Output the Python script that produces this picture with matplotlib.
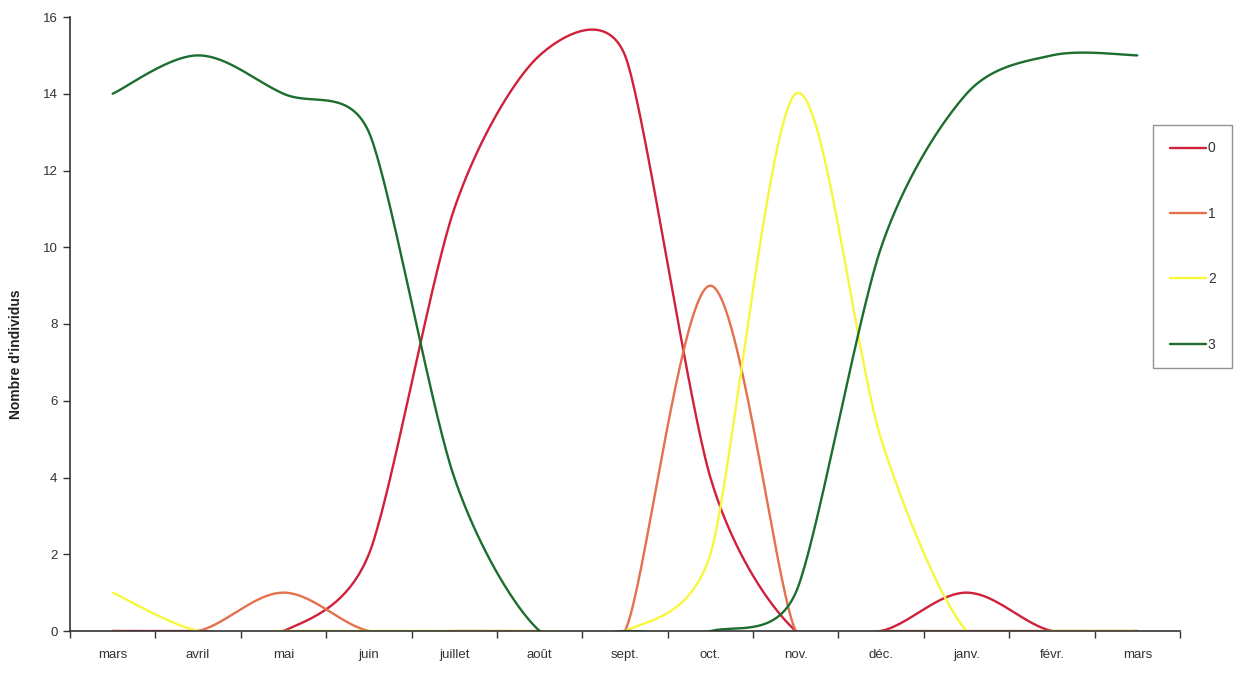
import numpy as np
import matplotlib
matplotlib.use("Agg")
import matplotlib.pyplot as plt

plt.rcParams["font.family"] = ["Liberation Sans", "DejaVu Sans"]

months = ["mars", "avril", "mai", "juin", "juillet", "août", "sept.",
          "oct.", "nov.", "déc.", "janv.", "févr.", "mars"]
stade0 = [0, 0, 0, 2, 11, 15, 15, 4, 0, 0, 1, 0, 0]
stade1 = [0, 0, 1, 0, 0, 0, 0, 9, 0, 0, 0, 0, 0]
stade2 = [1, 0, 0, 0, 0, 0, 0, 2, 14, 5, 0, 0, 0]
stade3 = [14, 15, 14, 13, 4, 0, 0, 0, 1, 10, 14, 15, 15]
labels = ["0", "1", "2", "3"]
colors = ["#d0203a", "#e4704c", "#f7f73c", "#1b6e2e"]

W, H = 1239, 673
ax_left, ax_bottom, ax_w, ax_h = 70 / W, 42 / H, 1110 / W, 614 / H


def smooth(xs, ys, sx, sy, n=40, k=0.4):
    # excel-like smoothed line: bezier through the points, worked out in pixels
    P = np.column_stack([np.asarray(xs, float) * sx, np.asarray(ys, float) * sy])
    m = len(P)
    tang = np.zeros_like(P)
    for i in range(m):
        a = P[max(i - 1, 0)]
        b = P[i]
        c = P[min(i + 1, m - 1)]
        dp = np.hypot(*(b - a))
        dn = np.hypot(*(c - b))
        g = 1.0
        if dp > 0 and dn > 0:
            g = (2 * min(dp, dn) / (dp + dn)) ** k
        tang[i] = (c - a) / 6 * g
    out = []
    for i in range(m - 1):
        p1, p2 = P[i], P[i + 1]
        c1 = p1 + tang[i]
        c2 = p2 - tang[i + 1]
        t = np.linspace(0, 1, n)[:, None]
        seg = ((1 - t) ** 3) * p1 + 3 * ((1 - t) ** 2) * t * c1 \
            + 3 * (1 - t) * t ** 2 * c2 + t ** 3 * p2
        out.append(seg if i == 0 else seg[1:])
    out = np.vstack(out)
    return out[:, 0] / sx, out[:, 1] / sy


fig = plt.figure(figsize=(W / 100, H / 100), dpi=100)
ax = fig.add_axes([ax_left, ax_bottom, ax_w, ax_h])

x = np.arange(len(months))
sx = 1110 / 13
sy = 614 / 16
for vals, lab, col in zip([stade0, stade1, stade2, stade3], labels, colors):
    xx, yy = smooth(x, vals, sx, sy)
    ax.plot(xx, yy, color=col, linewidth=1.7, label=lab, solid_capstyle="round")

ax.set_xlim(-0.5, 12.5)
ax.set_ylim(0, 16)
ax.set_yticks(range(0, 17, 2))
ax.set_xticks(x)
ax.set_xticklabels(months)
ax.set_xticks(np.arange(-0.5, 13, 1), minor=True)
ax.tick_params(axis="x", which="major", length=0, pad=13, labelsize=9.5, labelcolor="#333333")
ax.tick_params(axis="x", which="minor", length=5, width=1, direction="out", color="#333333")
ax.tick_params(axis="y", length=5, width=1, pad=4, labelsize=9.5, labelcolor="#333333", color="#333333")

for s in ["top", "right"]:
    ax.spines[s].set_visible(False)
for s in ["left", "bottom"]:
    ax.spines[s].set_color("#333333")
    ax.spines[s].set_linewidth(1.2)
    ax.spines[s].set_zorder(5)

ax.set_ylabel("Nombre d'individus", fontsize=10, fontweight="bold", color="#222222")
ax.yaxis.set_label_coords(-0.042, 0.451)

leg = ax.legend(loc="center left", bbox_to_anchor=(1153 / W, 1 - 246.5 / H),
                bbox_transform=fig.transFigure, frameon=True, fancybox=False,
                fontsize=10, handlelength=2.6, handletextpad=0.15,
                labelspacing=3.7, borderpad=1.2, borderaxespad=0)
leg.get_frame().set_edgecolor("#777777")
leg.get_frame().set_linewidth(1.0)
for t in leg.get_texts():
    t.set_color("#333333")

fig.savefig("out.png", dpi=100, facecolor="white")
